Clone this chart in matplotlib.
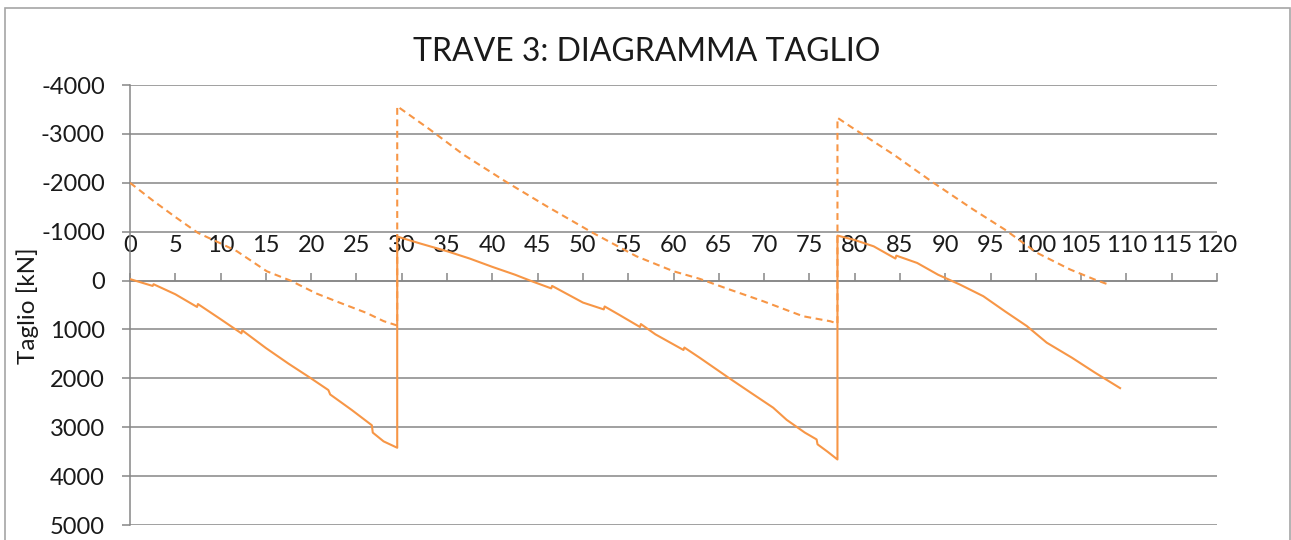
import matplotlib
matplotlib.use("Agg")
import matplotlib.pyplot as plt
from matplotlib.patches import Rectangle

# shear diagram along the beam: solid and dashed envelopes (x in m, V in kN)
solid_x = [0, 2.5, 2.6, 5, 7.4, 7.5, 10, 12.3, 12.4, 15, 17.5, 19.9, 21.9, 22.1, 24.5,
           26.7, 26.8, 28, 29.5,
           29.5, 32, 35, 37.5, 40, 42.5, 44.3, 46.5, 46.6, 50, 52.3, 52.4, 54, 56.3,
           56.4, 58, 61.1, 61.2, 62.9, 66.1, 68.5, 71, 72.5, 74.5, 75.8, 75.9, 77, 78.1,
           78.1, 80, 82.1, 84.5, 84.6, 86.9, 89.2, 91.6, 94.2, 96.6, 99, 101.2, 104,
           106.5, 109.3]
solid_v = [-30, 110, 75, 280, 540, 480, 790, 1080, 1020, 1380, 1700, 1990, 2240, 2330, 2650,
           2960, 3110, 3290, 3420,
           -900, -760, -600, -450, -280, -120, 10, 160, 110, 450, 590, 530, 700, 950,
           890, 1100, 1420, 1370, 1580, 1990, 2290, 2600, 2850, 3110, 3250, 3350, 3500, 3660,
           -920, -830, -700, -450, -510, -360, -120, 80, 320, 630, 930, 1270, 1580,
           1880, 2200]

dashed_x = [0, 2.5, 5, 7.5, 10, 11.8, 15.1, 17.7, 20.6, 23.2, 26.1, 28, 29.5,
            29.5, 33.1, 36.8, 41.6, 46, 51.1, 55.9, 60, 62.9, 66.2, 69.9, 74.3, 77.3, 78.1,
            78.1, 79.5, 84.3, 88.7, 93.1, 96.6, 100.1, 103.8, 106.7, 108]
dashed_v = [-2000, -1640, -1300, -975, -760, -600, -190, 0, 266, 456, 661, 830, 920,
            -3565, -3090, -2577, -2010, -1520, -975, -497, -190, -35, 184, 423, 730, 832, 880,
            -3330, -3155, -2577, -2000, -1452, -1040, -570, -225, -6, 80]

x_ticks = list(range(0, 121, 5))
y_ticks = list(range(-4000, 5001, 1000))

title = "TRAVE 3: DIAGRAMMA TAGLIO"
y_label = "Taglio [kN]"

ORANGE = "#F79646"
GRID = "#868686"
TEXT = "#1a1a1a"

plt.rcParams["font.family"] = ["Lato", "DejaVu Sans"]

W, H = 1291, 540
fig = plt.figure(figsize=(W / 100, H / 100), dpi=100)
ax = fig.add_axes([130 / W, 1 - 525 / H, (1217 - 130) / W, (525 - 85) / H])

# outer chart frame
fig.patches.append(Rectangle((5 / W, -0.05), (1290 - 5) / W, 1.05 - 8 / H,
                             transform=fig.transFigure, fill=False,
                             edgecolor="#a6a6a6", linewidth=1.2))

ax.plot(solid_x, solid_v, color=ORANGE, linewidth=1.5, zorder=3)
ax.plot(dashed_x, dashed_v, color=ORANGE, linewidth=1.5,
        linestyle=(0, (3.3, 2.2)), zorder=3)

ax.set_xlim(0, 120)
ax.set_ylim(5000, -4000)
ax.set_yticks(y_ticks)
ax.set_yticklabels([str(v) for v in y_ticks])
ax.set_xticks(x_ticks)
ax.set_xticklabels([str(v) for v in x_ticks])

ax.grid(axis="y", color=GRID, linewidth=1.1)
ax.set_axisbelow(True)

# horizontal axis sits on V = 0, labels above it
ax.xaxis.set_ticks_position("top")
ax.spines["top"].set_position(("data", 0))
ax.spines["top"].set_color(GRID)
ax.spines["top"].set_linewidth(1.1)
ax.spines["bottom"].set_visible(False)
ax.spines["right"].set_visible(False)
ax.spines["left"].set_color(GRID)
ax.spines["left"].set_linewidth(1.1)

ax.tick_params(axis="x", direction="out", length=6, width=1.1, color=GRID,
               pad=12, labelsize=17, labelcolor=TEXT)
ax.tick_params(axis="y", direction="out", length=6, width=1.1, color=GRID,
               pad=12, labelsize=17, labelcolor=TEXT)

fig.text(647 / W, 1 - 52 / H, title, ha="center", va="center",
         fontsize=23, color=TEXT)
fig.text(28 / W, 1 - 306 / H, y_label, ha="center", va="center",
         rotation=90, fontsize=17.5, color=TEXT)

fig.savefig("out.png", dpi=100)
